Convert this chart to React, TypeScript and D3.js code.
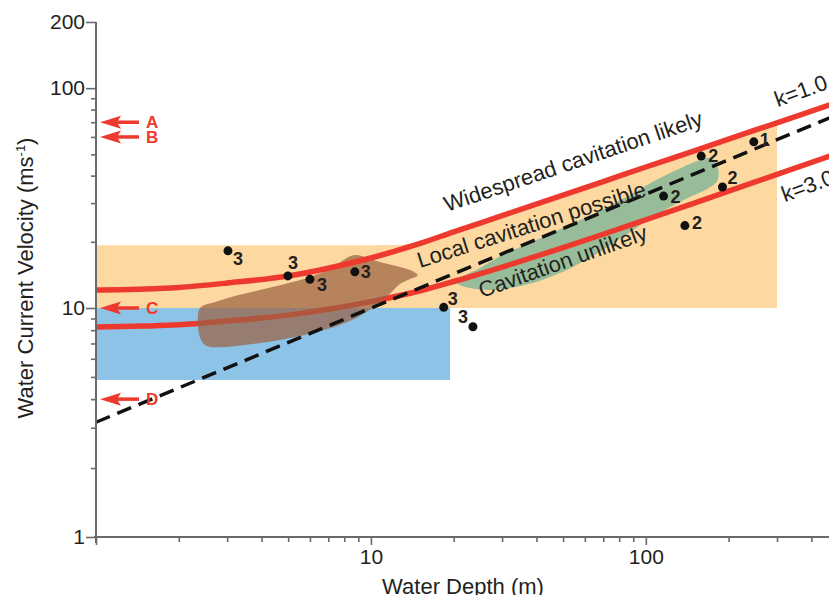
import React, { useEffect, useRef } from 'react';
import * as d3 from 'd3';

const W = 829;
const H = 595;

// water depth (m) where the two threshold curves were read
const curveDepths = [1, 1.5, 2, 3, 5, 7, 10, 15, 20, 30, 50, 70, 100, 150, 200, 300, 500];
const k1Velocity = [12.07, 12.2, 12.41, 12.99, 13.98, 15.17, 16.88, 19.62, 22.2, 26.3, 32.6, 37.6, 43.8, 51.9, 58.7, 69.6, 86.4];
const k3Velocity = [8.26, 8.34, 8.44, 8.77, 9.31, 9.87, 10.69, 11.95, 13.2, 15.36, 18.84, 21.65, 25.2, 30.0, 34.0, 40.5, 50.6];

// dashed line, end points [depth, velocity]
const dashedLine: [number, number][] = [[1, 3.17], [500, 76]];

// shaded boxes
const orangeDepth = [1, 300];
const orangeVelocity = [10, 19.3];
const blueDepth = [1, 19.4];
const blueVelocity = [4.85, 10];

// outlines of the two blobs [depth, velocity]
const brownZone: [number, number][] = [
  [2.39, 10.0], [2.71, 10.65], [3.2, 11.34], [3.95, 12.07], [4.87, 12.86], [6.0, 13.83],
  [7.09, 15.03], [7.85, 16.36], [8.39, 17.2], [8.9, 17.4], [9.51, 17.06], [10.78, 16.18],
  [12.75, 15.35], [14.2, 14.7], [14.8, 14.1], [13.9, 13.55], [12.75, 12.86], [11.7, 11.58],
  [10.34, 10.21], [9.12, 9.23], [7.71, 8.43], [6.53, 7.94], [5.08, 7.4], [3.95, 7.03],
  [2.94, 6.76], [2.53, 6.82], [2.41, 7.25], [2.35, 8.43],
];
const greenZone: [number, number][] = [
  [20.5, 13.27], [24.9, 15.2], [29.5, 17.2], [37.8, 19.75], [51.6, 23.6], [68.0, 27.6],
  [89.7, 33.3], [112.5, 39.0], [136, 43.7], [157, 47.1], [171, 48.1], [180, 45.6],
  [184, 41.5], [181, 37.4], [167, 34.8], [144.5, 32.0], [119, 28.2], [103, 25.4],
  [89.7, 22.6], [77.1, 19.95], [68.0, 17.97], [57.5, 16.0], [51.6, 14.9], [42.9, 13.55],
  [38.8, 13.0], [32.0, 12.33], [27.1, 12.07], [22.9, 12.33], [21.1, 12.72],
];

// observations
const pointDepth = [3.02, 4.99, 6.0, 8.74, 18.4, 23.5, 159, 247, 190, 116, 138.7];
const pointVelocity = [18.2, 14.0, 13.5, 14.6, 10.07, 8.28, 49.1, 57.0, 35.5, 32.3, 23.7];
const pointGroup = ['3', '3', '3', '3', '3', '3', '2', '1', '2', '2', '2'];

// arrows on the velocity axis
const markerLabels = ['A', 'B', 'C', 'D'];
const markerVelocity = [70, 60, 10, 4];

// zone labels, anchored at [depth, velocity]
const zoneText = ['Widespread cavitation likely', 'Local cavitation possible', 'Cavitation unlikely', 'k=1.0', 'k=3.0'];
const zoneAnchor: [number, number][] = [[18.9, 27.3], [15.1, 15.2], [25.3, 11.1], [302, 81.9], [320, 30.3]];

// ticks
const xMajor = [1, 10, 100];
const xMinor = [2, 3, 4, 5, 6, 7, 8, 9, 20, 30, 40, 50, 60, 70, 80, 90, 200, 300, 400, 500];
const yMajor = [1, 10, 100, 200];
const yMinor = [2, 3, 4, 5, 6, 7, 8, 9, 20, 30, 40, 50, 60, 70, 80, 90];

const FONT = '"Liberation Sans", Arial, Helvetica, sans-serif';
const RED = '#ee3a2e';
const INK = '#231f20';
const AXIS = '#6a6a6a';

export default function App() {
  const svgRef = useRef<SVGSVGElement>(null);

  useEffect(() => {
    if (!svgRef.current) return;
    const svg = d3.select(svgRef.current);
    svg.selectAll('*').remove();

    const x = d3.scaleLog().domain([1, 500]).range([96, 838]);
    const y = d3.scaleLog().domain([1, 10, 200]).range([537, 308, 22]);

    const line = d3.line<[number, number]>()
      .x(d => x(d[0]))
      .y(d => y(d[1]));

    // orange zone: box, lifted to the k=1.0 curve where that is higher
    const orangeTop: [number, number][] = curveDepths
      .map((d, i) => [d, Math.max(orangeVelocity[1], k1Velocity[i])] as [number, number])
      .filter(p => p[0] <= orangeDepth[1]);
    svg.append('path')
      .attr('d', d3.area<[number, number]>()
        .x(d => x(d[0]))
        .y0(y(orangeVelocity[0]))
        .y1(d => y(d[1]))
        .curve(d3.curveMonotoneX)(orangeTop))
      .attr('fill', '#fdd9a1');

    svg.append('rect')
      .attr('x', x(blueDepth[0]))
      .attr('y', y(blueVelocity[1]))
      .attr('width', x(blueDepth[1]) - x(blueDepth[0]))
      .attr('height', y(blueVelocity[0]) - y(blueVelocity[1]))
      .attr('fill', '#8ec3e8');

    svg.append('path')
      .attr('d', line.curve(d3.curveCatmullRomClosed.alpha(0.5))(greenZone))
      .attr('fill', '#8fba98')
      .attr('fill-opacity', 0.92);

    const k1: [number, number][] = curveDepths.map((d, i) => [d, k1Velocity[i]]);
    const k3: [number, number][] = curveDepths.map((d, i) => [d, k3Velocity[i]]);

    svg.append('path')
      .attr('d', line.curve(d3.curveMonotoneX)(k3))
      .attr('fill', 'none')
      .attr('stroke', RED)
      .attr('stroke-width', 5.5);

    svg.append('path')
      .attr('d', line.curve(d3.curveCatmullRomClosed.alpha(0.5))(brownZone))
      .attr('fill', '#9a6143')
      .attr('fill-opacity', 0.72);

    svg.append('path')
      .attr('d', line.curve(d3.curveMonotoneX)(k1))
      .attr('fill', 'none')
      .attr('stroke', RED)
      .attr('stroke-width', 5.5);

    svg.append('path')
      .attr('d', line.curve(d3.curveLinear)(dashedLine))
      .attr('fill', 'none')
      .attr('stroke', '#111')
      .attr('stroke-width', 3.5)
      .attr('stroke-dasharray', '15 8');

    // axes
    const styleAxis = (g: d3.Selection<SVGGElement, unknown, null, undefined>) => {
      g.select('.domain').remove();
      g.selectAll('line').attr('stroke', AXIS).attr('stroke-width', 1.6);
      g.selectAll('text')
        .attr('fill', INK)
        .style('font-family', FONT)
        .style('font-size', '21px');
    };

    svg.append('g')
      .attr('transform', `translate(96,0)`)
      .call(d3.axisLeft(y).tickValues(yMajor).tickSize(10).tickPadding(1).tickFormat(d3.format('d')))
      .call(styleAxis);
    svg.append('g')
      .attr('transform', `translate(96,0)`)
      .call(d3.axisLeft(y).tickValues(yMinor).tickSize(5).tickFormat(() => ''))
      .call(styleAxis);

    svg.append('g')
      .attr('transform', `translate(0,537)`)
      .call(d3.axisBottom(x).tickValues(xMajor).tickSize(8).tickPadding(4)
        .tickFormat(d => (+d === 1 ? '' : d3.format('d')(+d))))
      .call(styleAxis);
    svg.append('g')
      .attr('transform', `translate(0,537)`)
      .call(d3.axisBottom(x).tickValues(xMinor).tickSize(5).tickFormat(() => ''))
      .call(styleAxis);

    svg.append('line')
      .attr('x1', 96).attr('x2', 96).attr('y1', y(200)).attr('y2', 543)
      .attr('stroke', AXIS).attr('stroke-width', 2);
    svg.append('line')
      .attr('x1', 94).attr('x2', 838).attr('y1', 537).attr('y2', 537)
      .attr('stroke', AXIS).attr('stroke-width', 2);

    // axis titles
    svg.append('text')
      .attr('x', 463).attr('y', 594)
      .attr('text-anchor', 'middle')
      .attr('fill', INK)
      .style('font-family', FONT).style('font-size', '22px')
      .text('Water Depth (m)');

    const yt = svg.append('text')
      .attr('transform', 'translate(33,278) rotate(-90)')
      .attr('text-anchor', 'middle')
      .attr('fill', INK)
      .style('font-family', FONT).style('font-size', '22px');
    yt.append('tspan').text('Water Current Velocity (ms');
    yt.append('tspan').attr('dy', -8).style('font-size', '13px').text('-1');
    yt.append('tspan').attr('dy', 8).text(')');

    // zone labels
    const angles = [-18.7, -17.6, -19.5, -20, -20];
    zoneText.forEach((t, i) => {
      const [d, v] = zoneAnchor[i];
      svg.append('text')
        .attr('transform', `translate(${x(d)},${y(v)}) rotate(${angles[i]})`)
        .attr('fill', INK)
        .style('font-family', FONT).style('font-size', '22px')
        .text(t);
    });

    // observations
    const labelOffsets: [number, number][] = [
      [10, 8], [5, -13], [12, 5], [11, 0], [9, -9], [-10, -10], [12, -1], [11, -2], [10, -10], [12, 0], [12, -3],
    ];
    pointDepth.forEach((d, i) => {
      const px = x(d);
      const py = y(pointVelocity[i]);
      svg.append('circle').attr('cx', px).attr('cy', py).attr('r', 4.5).attr('fill', '#111');
      svg.append('text')
        .attr('x', px + labelOffsets[i][0])
        .attr('y', py + labelOffsets[i][1])
        .attr('dy', '0.36em')
        .attr('text-anchor', 'middle')
        .attr('fill', INK)
        .style('font-family', FONT).style('font-size', '18px').style('font-weight', 'bold')
        .text(pointGroup[i]);
    });

    // arrows A-D
    markerLabels.forEach((label, i) => {
      const yy = y(markerVelocity[i]);
      svg.append('line')
        .attr('x1', 114).attr('x2', 139).attr('y1', yy).attr('y2', yy)
        .attr('stroke', RED).attr('stroke-width', 3.5);
      svg.append('path')
        .attr('d', `M100,${yy} L121,${yy - 6.5} L117,${yy} L121,${yy + 6.5} Z`)
        .attr('fill', RED);
      svg.append('text')
        .attr('x', 146).attr('y', yy).attr('dy', '0.36em')
        .attr('fill', RED)
        .style('font-family', FONT).style('font-size', '17px').style('font-weight', 'bold')
        .text(label);
    });
  }, []);

  return (
    <svg
      ref={svgRef}
      width={W}
      height={H}
      style={{ position: 'absolute', left: 0, top: 0, background: '#fff' }}
    />
  );
}
